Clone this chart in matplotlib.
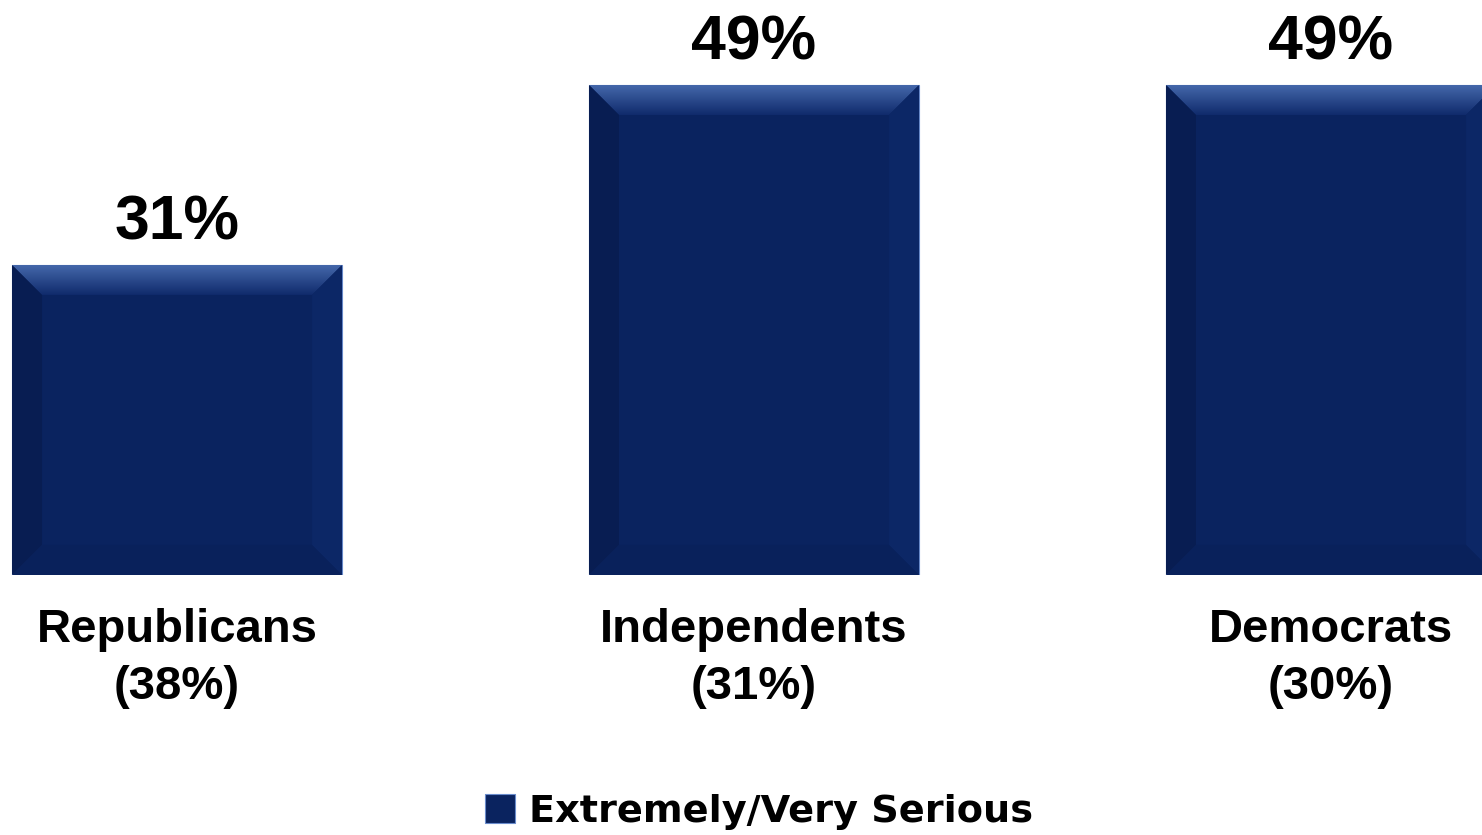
import matplotlib.pyplot as plt
import numpy as np
from matplotlib.patches import Polygon

categories = ["Republicans", "Independents", "Democrats"]
sub_labels = ["(38%)", "(31%)", "(30%)"]
values = [31, 49, 49]
series_name = "Extremely/Very Serious"

navy = "#0a235f"
fig = plt.figure(figsize=(14.82, 8.35), dpi=100)
ax = fig.add_axes([0, 0.3114, 1, 0.6886])

x = np.arange(len(categories))
w = 0.572
bars = ax.bar(x, values, width=w, color=navy, edgecolor="#6a8ccc", linewidth=0.8,
              label=series_name, zorder=2)
ax.set_xlim(-0.3068, 2.2617)
ax.set_ylim(0, 57.5)
ax.axis("off")

# bevel edges
bx, by = 0.052, 3.0
grad = np.linspace(0, 1, 64).reshape(-1, 1)
cm_top = plt.matplotlib.colors.LinearSegmentedColormap.from_list("tb", ["#102b6c", "#4467aa"])
for b in bars:
    x0, y0 = b.get_x(), b.get_y()
    x1, y1 = x0 + b.get_width(), y0 + b.get_height()
    top = Polygon([(x0, y1), (x1, y1), (x1 - bx, y1 - by), (x0 + bx, y1 - by)],
                  closed=True, facecolor="none", edgecolor="none")
    ax.add_patch(top)
    im = ax.imshow(grad, cmap=cm_top, extent=(x0, x1, y1 - by, y1), origin="lower",
                   aspect="auto", zorder=3)
    im.set_clip_path(top)
    ax.add_patch(Polygon([(x0, y0), (x0 + bx, y0 + by), (x0 + bx, y1 - by), (x0, y1)],
                         closed=True, facecolor="#081d52", edgecolor="none", zorder=3))
    ax.add_patch(Polygon([(x1, y0), (x1 - bx, y0 + by), (x1 - bx, y1 - by), (x1, y1)],
                         closed=True, facecolor="#0c2766", edgecolor="none", zorder=3))
    ax.add_patch(Polygon([(x0, y0), (x1, y0), (x1 - bx, y0 + by), (x0 + bx, y0 + by)],
                         closed=True, facecolor="#09215b", edgecolor="none", zorder=3))
    ax.text(b.get_x() + b.get_width() / 2, y1 + 1.2, f"{int(b.get_height())}%",
            ha="center", va="bottom", fontsize=45, fontweight="bold",
            family="Liberation Sans")

for xi, c, s in zip(x, categories, sub_labels):
    ax.text(xi, -3.3, c + "\n" + s, ha="center", va="top", fontsize=34,
            fontweight="bold", family="Liberation Sans", linespacing=1.38)

fig.legend(handles=[bars], labels=[series_name], loc="center",
           bbox_to_anchor=(0.512, 0.028), frameon=False,
           prop={"family": "DejaVu Sans", "weight": "bold", "size": 27.5},
           handlelength=0.8, handleheight=0.8, handletextpad=0.35)

fig.savefig("out.png", dpi=100)
